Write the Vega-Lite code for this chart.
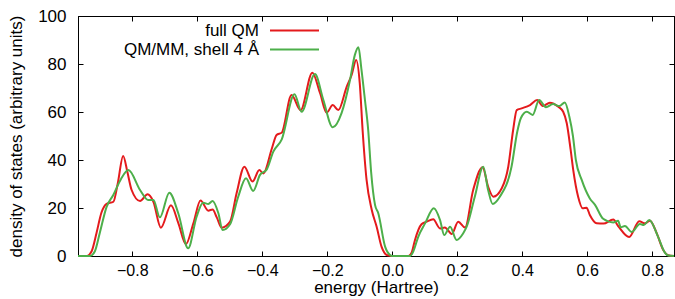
{
  "$schema": "https://vega.github.io/schema/vega-lite/v6.json",
  "width": 596,
  "height": 240,
  "autosize": {"type": "none"},
  "padding": {"left": 78, "top": 16, "right": 1, "bottom": 43},
  "background": "white",
  "config": {
    "view": {"stroke": "#000", "strokeWidth": 1},
    "font": "Liberation Sans",
    "axis": {"grid": false, "domainColor": "#000", "tickColor": "#000", "labelColor": "#000", "titleColor": "#000", "labelFontSize": 17, "titleFontSize": 17, "titleFontWeight": "normal", "labelFont": "Liberation Sans", "titleFont": "Liberation Sans", "tickSize": -5}
  },
  "datasets": {
    "dos": [
      {"series": "full QM", "energy": -0.967, "dos": 0},
      {"series": "full QM", "energy": -0.94, "dos": 0},
      {"series": "full QM", "energy": -0.925, "dos": 2},
      {"series": "full QM", "energy": -0.91, "dos": 9.6},
      {"series": "full QM", "energy": -0.895, "dos": 18},
      {"series": "full QM", "energy": -0.879, "dos": 21.7},
      {"series": "full QM", "energy": -0.858, "dos": 22.6},
      {"series": "full QM", "energy": -0.845, "dos": 30},
      {"series": "full QM", "energy": -0.828, "dos": 41.7},
      {"series": "full QM", "energy": -0.815, "dos": 35},
      {"series": "full QM", "energy": -0.802, "dos": 27.5},
      {"series": "full QM", "energy": -0.776, "dos": 22.9},
      {"series": "full QM", "energy": -0.753, "dos": 25.7},
      {"series": "full QM", "energy": -0.735, "dos": 22.6},
      {"series": "full QM", "energy": -0.712, "dos": 11.8},
      {"series": "full QM", "energy": -0.681, "dos": 21.1},
      {"series": "full QM", "energy": -0.658, "dos": 13.6},
      {"series": "full QM", "energy": -0.635, "dos": 4.9},
      {"series": "full QM", "energy": -0.612, "dos": 13.6},
      {"series": "full QM", "energy": -0.59, "dos": 23.1},
      {"series": "full QM", "energy": -0.566, "dos": 18.9},
      {"series": "full QM", "energy": -0.553, "dos": 19.4},
      {"series": "full QM", "energy": -0.54, "dos": 16.1},
      {"series": "full QM", "energy": -0.525, "dos": 11.8},
      {"series": "full QM", "energy": -0.499, "dos": 14.3},
      {"series": "full QM", "energy": -0.479, "dos": 26.1},
      {"series": "full QM", "energy": -0.455, "dos": 37.2},
      {"series": "full QM", "energy": -0.43, "dos": 31},
      {"series": "full QM", "energy": -0.409, "dos": 35.8},
      {"series": "full QM", "energy": -0.397, "dos": 34.4},
      {"series": "full QM", "energy": -0.37, "dos": 45},
      {"series": "full QM", "energy": -0.356, "dos": 50.4},
      {"series": "full QM", "energy": -0.34, "dos": 51.4},
      {"series": "full QM", "energy": -0.31, "dos": 67.1},
      {"series": "full QM", "energy": -0.282, "dos": 60.8},
      {"series": "full QM", "energy": -0.246, "dos": 76.4},
      {"series": "full QM", "energy": -0.222, "dos": 67.8},
      {"series": "full QM", "energy": -0.202, "dos": 59.7},
      {"series": "full QM", "energy": -0.183, "dos": 62.9},
      {"series": "full QM", "energy": -0.166, "dos": 60.8},
      {"series": "full QM", "energy": -0.14, "dos": 70.6},
      {"series": "full QM", "energy": -0.125, "dos": 75.4},
      {"series": "full QM", "energy": -0.111, "dos": 81.7},
      {"series": "full QM", "energy": -0.1, "dos": 72},
      {"series": "full QM", "energy": -0.091, "dos": 52},
      {"series": "full QM", "energy": -0.079, "dos": 31.7},
      {"series": "full QM", "energy": -0.063, "dos": 19.2},
      {"series": "full QM", "energy": -0.048, "dos": 12.2},
      {"series": "full QM", "energy": -0.033, "dos": 3.9},
      {"series": "full QM", "energy": -0.015, "dos": 0.3},
      {"series": "full QM", "energy": 0.0, "dos": 0},
      {"series": "full QM", "energy": 0.05, "dos": 0},
      {"series": "full QM", "energy": 0.06, "dos": 1.5},
      {"series": "full QM", "energy": 0.07, "dos": 6.7},
      {"series": "full QM", "energy": 0.09, "dos": 13.2},
      {"series": "full QM", "energy": 0.106, "dos": 14.3},
      {"series": "full QM", "energy": 0.126, "dos": 15.3},
      {"series": "full QM", "energy": 0.147, "dos": 11.5},
      {"series": "full QM", "energy": 0.162, "dos": 11.9},
      {"series": "full QM", "energy": 0.183, "dos": 9.2},
      {"series": "full QM", "energy": 0.203, "dos": 14.3},
      {"series": "full QM", "energy": 0.224, "dos": 11.9},
      {"series": "full QM", "energy": 0.249, "dos": 27.5},
      {"series": "full QM", "energy": 0.278, "dos": 37},
      {"series": "full QM", "energy": 0.295, "dos": 28.9},
      {"series": "full QM", "energy": 0.311, "dos": 24.7},
      {"series": "full QM", "energy": 0.337, "dos": 28.2},
      {"series": "full QM", "energy": 0.357, "dos": 37.2},
      {"series": "full QM", "energy": 0.372, "dos": 52.5},
      {"series": "full QM", "energy": 0.383, "dos": 60.8},
      {"series": "full QM", "energy": 0.398, "dos": 61.5},
      {"series": "full QM", "energy": 0.424, "dos": 62.9},
      {"series": "full QM", "energy": 0.446, "dos": 65},
      {"series": "full QM", "energy": 0.463, "dos": 62.5},
      {"series": "full QM", "energy": 0.485, "dos": 63.9},
      {"series": "full QM", "energy": 0.511, "dos": 62.2},
      {"series": "full QM", "energy": 0.526, "dos": 60.1},
      {"series": "full QM", "energy": 0.537, "dos": 55.3},
      {"series": "full QM", "energy": 0.549, "dos": 44.2},
      {"series": "full QM", "energy": 0.557, "dos": 35.8},
      {"series": "full QM", "energy": 0.572, "dos": 24.7},
      {"series": "full QM", "energy": 0.586, "dos": 19.9},
      {"series": "full QM", "energy": 0.598, "dos": 20.1},
      {"series": "full QM", "energy": 0.608, "dos": 17.1},
      {"series": "full QM", "energy": 0.629, "dos": 13.6},
      {"series": "full QM", "energy": 0.65, "dos": 13.5},
      {"series": "full QM", "energy": 0.68, "dos": 15.2},
      {"series": "full QM", "energy": 0.695, "dos": 12.5},
      {"series": "full QM", "energy": 0.729, "dos": 7.9},
      {"series": "full QM", "energy": 0.76, "dos": 14.5},
      {"series": "full QM", "energy": 0.778, "dos": 13.6},
      {"series": "full QM", "energy": 0.793, "dos": 14.7},
      {"series": "full QM", "energy": 0.814, "dos": 9.4},
      {"series": "full QM", "energy": 0.834, "dos": 2.5},
      {"series": "full QM", "energy": 0.849, "dos": 0.3},
      {"series": "full QM", "energy": 0.867, "dos": 0},
      {"series": "QM/MM, shell 4 Å", "energy": -0.967, "dos": 0},
      {"series": "QM/MM, shell 4 Å", "energy": -0.93, "dos": 0},
      {"series": "QM/MM, shell 4 Å", "energy": -0.915, "dos": 2},
      {"series": "QM/MM, shell 4 Å", "energy": -0.9, "dos": 9.6},
      {"series": "QM/MM, shell 4 Å", "energy": -0.879, "dos": 20.5},
      {"series": "QM/MM, shell 4 Å", "energy": -0.858, "dos": 25.5},
      {"series": "QM/MM, shell 4 Å", "energy": -0.835, "dos": 32},
      {"series": "QM/MM, shell 4 Å", "energy": -0.812, "dos": 35.8},
      {"series": "QM/MM, shell 4 Å", "energy": -0.776, "dos": 27.5},
      {"series": "QM/MM, shell 4 Å", "energy": -0.751, "dos": 23.3},
      {"series": "QM/MM, shell 4 Å", "energy": -0.735, "dos": 23.3},
      {"series": "QM/MM, shell 4 Å", "energy": -0.715, "dos": 16.1},
      {"series": "QM/MM, shell 4 Å", "energy": -0.686, "dos": 26.4},
      {"series": "QM/MM, shell 4 Å", "energy": -0.658, "dos": 17.6},
      {"series": "QM/MM, shell 4 Å", "energy": -0.628, "dos": 3.2},
      {"series": "QM/MM, shell 4 Å", "energy": -0.602, "dos": 16.4},
      {"series": "QM/MM, shell 4 Å", "energy": -0.582, "dos": 22.2},
      {"series": "QM/MM, shell 4 Å", "energy": -0.566, "dos": 21.7},
      {"series": "QM/MM, shell 4 Å", "energy": -0.553, "dos": 22.9},
      {"series": "QM/MM, shell 4 Å", "energy": -0.535, "dos": 17.8},
      {"series": "QM/MM, shell 4 Å", "energy": -0.522, "dos": 10.8},
      {"series": "QM/MM, shell 4 Å", "energy": -0.499, "dos": 13.2},
      {"series": "QM/MM, shell 4 Å", "energy": -0.474, "dos": 24.7},
      {"series": "QM/MM, shell 4 Å", "energy": -0.45, "dos": 32.4},
      {"series": "QM/MM, shell 4 Å", "energy": -0.428, "dos": 27.1},
      {"series": "QM/MM, shell 4 Å", "energy": -0.407, "dos": 33.8},
      {"series": "QM/MM, shell 4 Å", "energy": -0.386, "dos": 36.1},
      {"series": "QM/MM, shell 4 Å", "energy": -0.366, "dos": 43.5},
      {"series": "QM/MM, shell 4 Å", "energy": -0.34, "dos": 48.6},
      {"series": "QM/MM, shell 4 Å", "energy": -0.301, "dos": 67.4},
      {"series": "QM/MM, shell 4 Å", "energy": -0.279, "dos": 60.1},
      {"series": "QM/MM, shell 4 Å", "energy": -0.238, "dos": 75.8},
      {"series": "QM/MM, shell 4 Å", "energy": -0.212, "dos": 65},
      {"series": "QM/MM, shell 4 Å", "energy": -0.183, "dos": 53.6},
      {"series": "QM/MM, shell 4 Å", "energy": -0.156, "dos": 59.5},
      {"series": "QM/MM, shell 4 Å", "energy": -0.13, "dos": 73.3},
      {"series": "QM/MM, shell 4 Å", "energy": -0.115, "dos": 83.8},
      {"series": "QM/MM, shell 4 Å", "energy": -0.104, "dos": 87},
      {"series": "QM/MM, shell 4 Å", "energy": -0.095, "dos": 78},
      {"series": "QM/MM, shell 4 Å", "energy": -0.084, "dos": 65},
      {"series": "QM/MM, shell 4 Å", "energy": -0.074, "dos": 52.5},
      {"series": "QM/MM, shell 4 Å", "energy": -0.065, "dos": 35},
      {"series": "QM/MM, shell 4 Å", "energy": -0.053, "dos": 21.3},
      {"series": "QM/MM, shell 4 Å", "energy": -0.043, "dos": 17.8},
      {"series": "QM/MM, shell 4 Å", "energy": -0.022, "dos": 3.9},
      {"series": "QM/MM, shell 4 Å", "energy": -0.007, "dos": 0.4},
      {"series": "QM/MM, shell 4 Å", "energy": 0.0, "dos": 0},
      {"series": "QM/MM, shell 4 Å", "energy": 0.055, "dos": 0},
      {"series": "QM/MM, shell 4 Å", "energy": 0.065, "dos": 2},
      {"series": "QM/MM, shell 4 Å", "energy": 0.08, "dos": 8},
      {"series": "QM/MM, shell 4 Å", "energy": 0.101, "dos": 13.6},
      {"series": "QM/MM, shell 4 Å", "energy": 0.128, "dos": 19.9},
      {"series": "QM/MM, shell 4 Å", "energy": 0.147, "dos": 15},
      {"series": "QM/MM, shell 4 Å", "energy": 0.16, "dos": 8.7},
      {"series": "QM/MM, shell 4 Å", "energy": 0.178, "dos": 12.2},
      {"series": "QM/MM, shell 4 Å", "energy": 0.198, "dos": 6.7},
      {"series": "QM/MM, shell 4 Å", "energy": 0.218, "dos": 9.4},
      {"series": "QM/MM, shell 4 Å", "energy": 0.229, "dos": 12.2},
      {"series": "QM/MM, shell 4 Å", "energy": 0.254, "dos": 24.7},
      {"series": "QM/MM, shell 4 Å", "energy": 0.28, "dos": 37.2},
      {"series": "QM/MM, shell 4 Å", "energy": 0.295, "dos": 27.5},
      {"series": "QM/MM, shell 4 Å", "energy": 0.309, "dos": 21.7},
      {"series": "QM/MM, shell 4 Å", "energy": 0.331, "dos": 24.7},
      {"series": "QM/MM, shell 4 Å", "energy": 0.367, "dos": 37.2},
      {"series": "QM/MM, shell 4 Å", "energy": 0.385, "dos": 52},
      {"series": "QM/MM, shell 4 Å", "energy": 0.396, "dos": 57.5},
      {"series": "QM/MM, shell 4 Å", "energy": 0.414, "dos": 60.1},
      {"series": "QM/MM, shell 4 Å", "energy": 0.432, "dos": 58.8},
      {"series": "QM/MM, shell 4 Å", "energy": 0.452, "dos": 65},
      {"series": "QM/MM, shell 4 Å", "energy": 0.473, "dos": 62},
      {"series": "QM/MM, shell 4 Å", "energy": 0.495, "dos": 63.3},
      {"series": "QM/MM, shell 4 Å", "energy": 0.514, "dos": 62.5},
      {"series": "QM/MM, shell 4 Å", "energy": 0.531, "dos": 64},
      {"series": "QM/MM, shell 4 Å", "energy": 0.545, "dos": 58},
      {"series": "QM/MM, shell 4 Å", "energy": 0.556, "dos": 50},
      {"series": "QM/MM, shell 4 Å", "energy": 0.565, "dos": 40},
      {"series": "QM/MM, shell 4 Å", "energy": 0.583, "dos": 31.7},
      {"series": "QM/MM, shell 4 Å", "energy": 0.608, "dos": 24},
      {"series": "QM/MM, shell 4 Å", "energy": 0.624, "dos": 21.3},
      {"series": "QM/MM, shell 4 Å", "energy": 0.649, "dos": 15.5},
      {"series": "QM/MM, shell 4 Å", "energy": 0.68, "dos": 14},
      {"series": "QM/MM, shell 4 Å", "energy": 0.695, "dos": 14.7},
      {"series": "QM/MM, shell 4 Å", "energy": 0.703, "dos": 12},
      {"series": "QM/MM, shell 4 Å", "energy": 0.716, "dos": 12.5},
      {"series": "QM/MM, shell 4 Å", "energy": 0.737, "dos": 10},
      {"series": "QM/MM, shell 4 Å", "energy": 0.762, "dos": 13.3},
      {"series": "QM/MM, shell 4 Å", "energy": 0.774, "dos": 12.9},
      {"series": "QM/MM, shell 4 Å", "energy": 0.791, "dos": 15},
      {"series": "QM/MM, shell 4 Å", "energy": 0.818, "dos": 8},
      {"series": "QM/MM, shell 4 Å", "energy": 0.839, "dos": 1.4},
      {"series": "QM/MM, shell 4 Å", "energy": 0.849, "dos": 0.2},
      {"series": "QM/MM, shell 4 Å", "energy": 0.867, "dos": 0}
    ]
  },
  "data": {"name": "dos"},
  "layer": [
    {
      "mark": {"type": "line", "interpolate": "monotone", "strokeWidth": 2},
      "encoding": {
        "x": {"field": "energy", "type": "quantitative", "scale": {"domain": [-0.967, 0.867], "nice": false, "zero": false},
              "axis": {"orient": "bottom", "values": [-0.8, -0.6, -0.4, -0.2, 0, 0.2, 0.4, 0.6, 0.8], "title": "energy (Hartree)", "labelFontSize": 16, "labelPadding": 11, "titlePadding": 1}},
        "y": {"field": "dos", "type": "quantitative", "scale": {"domain": [0, 100], "nice": false},
              "axis": {"orient": "left", "values": [0, 20, 40, 60, 80, 100], "title": "density of states (arbitrary units)", "labelPadding": 17, "titlePadding": 12}},
        "color": {"field": "series", "type": "nominal",
                  "scale": {"domain": ["full QM", "QM/MM, shell 4 Å"], "range": ["#e41a1c", "#4daf4a"]},
                  "legend": {"orient": "none", "legendX": 208, "legendY": 6, "title": null, "padding": 0,
                             "symbolType": "M-4.9,0H4.9", "symbolSize": 100, "symbolStrokeWidth": 2,
                             "labelFontSize": 17, "labelFont": "Liberation Sans", "labelColor": "#000", "labelAlign": "right", "labelOffset": -44, "labelLimit": 400, "rowPadding": 1}}
      }
    },
    {
      "mark": {"type": "line", "opacity": 0},
      "encoding": {
        "x": {"field": "energy", "type": "quantitative", "scale": {"domain": [-0.967, 0.867], "nice": false, "zero": false},
              "axis": {"orient": "top", "values": [-0.8, -0.6, -0.4, -0.2, 0, 0.2, 0.4, 0.6, 0.8], "labels": false, "title": null}},
        "y": {"field": "dos", "type": "quantitative", "scale": {"domain": [0, 100], "nice": false},
              "axis": {"orient": "right", "values": [0, 20, 40, 60, 80, 100], "labels": false, "title": null}},
        "detail": {"field": "series"}
      }
    }
  ],
  "resolve": {"scale": {"x": "independent", "y": "independent"}, "axis": {"x": "independent", "y": "independent"}}
}
